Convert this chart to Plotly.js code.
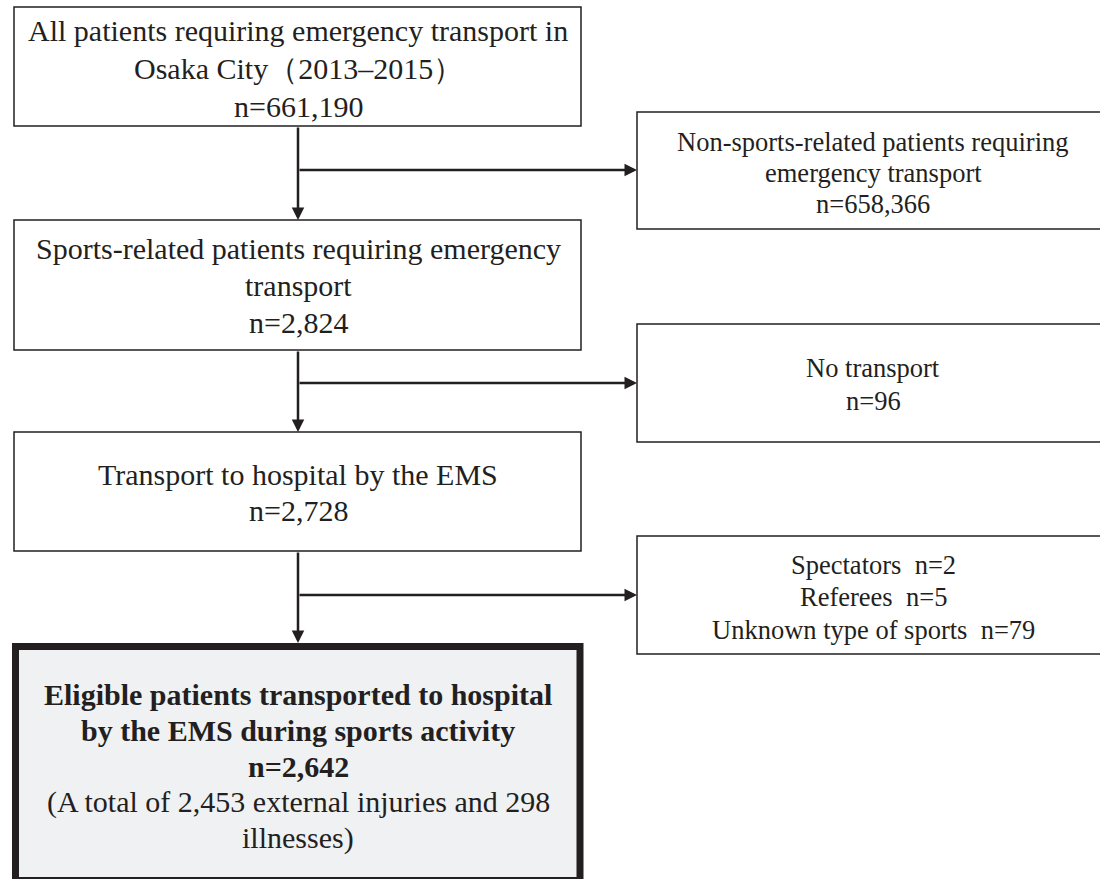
<!DOCTYPE html>
<html>
<head>
<meta charset="utf-8">
<script src="https://cdn.plot.ly/plotly-3.0.1.min.js"></script>
<style>html,body{margin:0;padding:0;background:#fff;}#chart{width:1100px;height:879px;}</style>
</head>
<body>
<div id="chart"></div>
<script>
// ---- data ----
const stageLabels = [
  ["All patients requiring emergency transport in", "Osaka City（2013–2015）"],
  ["Sports-related patients requiring emergency", "transport"],
  ["Transport to hospital by the EMS"],
  ["Eligible patients transported to hospital", "by the EMS during sports activity"]
];
const stageN = [661190, 2824, 2728, 2642];
const finalNote = ["(A total of 2,453 external injuries and 298", "illnesses)"];
const excludedLabels = [
  ["Non-sports-related patients requiring", "emergency transport"],
  ["No transport"],
  ["Spectators", "Referees", "Unknown type of sports"]
];
const excludedN = [[658366], [96], [2, 5, 79]];

// ---- layout geometry (pixels) ----
const INK = "#231f20";
const FONT = "Liberation Serif, Times New Roman, serif";
const leftX = [14, 581];
const rightX = [637, 1110];
const leftY = [[7, 126], [220, 350], [432, 551], [646.5, 880.5]];
const rightY = [[112, 229], [324, 442], [536, 654]];
const leftLineY = [[30, 68, 106], [248, 285, 322], [474, 510], [694, 730, 766, 802, 838]];
const rightLineY = [[142, 173, 204], [368, 401], [565, 597, 630]];
const branchY = [170, 383, 595];
const spineX = 298;
const leftTextX = 298, rightTextX = 873;
const fsLeft = 30, fsRight = 26.5;

const fmt = v => "n=" + v.toLocaleString("en-US");

const shapes = [];
const annotations = [];
function addLine(x, y, txt, size) {
  annotations.push({
    x: x, y: y, xref: "x", yref: "y", text: txt, showarrow: false,
    xanchor: "center", yanchor: "middle", align: "center",
    font: {family: FONT, size: size, color: INK}
  });
}

// left boxes
leftY.forEach((yy, i) => {
  const last = i === leftY.length - 1;
  shapes.push({
    type: "rect", xref: "x", yref: "y",
    x0: last ? leftX[0] + 1.5 : leftX[0], x1: last ? leftX[1] - 1 : leftX[1],
    y0: yy[0], y1: yy[1],
    line: {color: INK, width: last ? 7 : 1.5},
    fillcolor: last ? "#f0f1f3" : "rgba(0,0,0,0)", layer: "below"
  });
  let lines = stageLabels[i].concat([fmt(stageN[i])]);
  if (last) lines = lines.map(l => "<b>" + l + "</b>").concat(finalNote);
  lines.forEach((l, k) => addLine(leftTextX, leftLineY[i][k], l, fsLeft));
});

// right boxes
rightY.forEach((yy, i) => {
  shapes.push({
    type: "rect", xref: "x", yref: "y",
    x0: rightX[0], x1: rightX[1], y0: yy[0], y1: yy[1],
    line: {color: INK, width: 1.5}, fillcolor: "rgba(0,0,0,0)", layer: "below"
  });
  let lines;
  if (excludedN[i].length === 1) lines = excludedLabels[i].concat([fmt(excludedN[i][0])]);
  else lines = excludedLabels[i].map((l, k) => l + "\u00a0\u00a0" + fmt(excludedN[i][k]));
  lines.forEach((l, k) => addLine(rightTextX, rightLineY[i][k], l, fsRight));
});

// vertical arrows between left boxes
for (let i = 0; i < leftY.length - 1; i++) {
  const yTop = leftY[i][1];
  const yBot = i + 1 === leftY.length - 1 ? leftY[i + 1][0] - 3.5 : leftY[i + 1][0];
  annotations.push({
    x: spineX, y: yBot, ax: spineX, ay: yTop,
    xref: "x", yref: "y", axref: "x", ayref: "y",
    text: "", showarrow: true, arrowhead: 2, arrowsize: 1, arrowwidth: 2.5, arrowcolor: INK,
    standoff: 0, startstandoff: 0
  });
}
// horizontal arrows
branchY.forEach(by => {
  annotations.push({
    x: rightX[0], y: by, ax: spineX, ay: by,
    xref: "x", yref: "y", axref: "x", ayref: "y",
    text: "", showarrow: true, arrowhead: 2, arrowsize: 1, arrowwidth: 2.5, arrowcolor: INK,
    standoff: 0, startstandoff: 0
  });
});

const layout = {
  width: 1100, height: 879,
  margin: {l: 0, r: 0, t: 0, b: 0},
  paper_bgcolor: "#ffffff", plot_bgcolor: "#ffffff",
  xaxis: {range: [0, 1100], visible: false, fixedrange: true},
  yaxis: {range: [879, 0], visible: false, fixedrange: true},
  shapes: shapes, annotations: annotations, showlegend: false
};
Plotly.newPlot("chart", [], layout, {staticPlot: true, displayModeBar: false});
</script>
</body>
</html>
